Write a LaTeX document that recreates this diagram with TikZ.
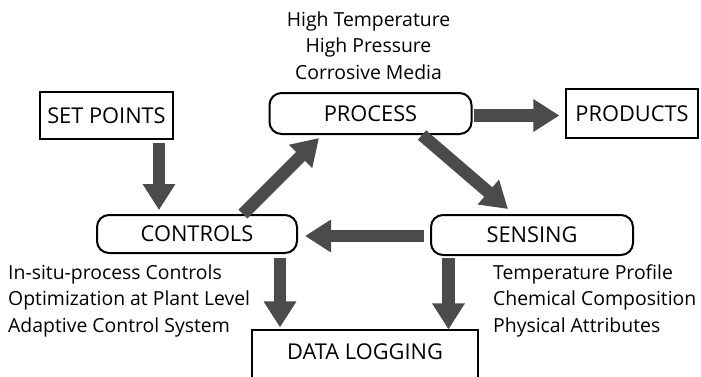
\documentclass[tikz,border=0pt]{standalone}
\usepackage{fontspec}
\setmainfont{Open Sans}
\usetikzlibrary{arrows.meta}
\definecolor{arrowgray}{HTML}{4B4B4B}
\tikzset{
  plainbox/.style={draw=black, line width=1.2pt, inner sep=0pt, font=\fontsize{21.8}{26}\selectfont},
  roundbox/.style={draw=black, line width=2pt, rounded corners=12pt, inner sep=0pt, font=\fontsize{21.8}{26}\selectfont},
  bigarrow/.style={draw=arrowgray, line width=12.5pt, -{Triangle[width=31pt,length=26pt]}},
  notetext/.style={inner sep=0pt, font=\fontsize{19.4}{26.5}\selectfont},
}
\begin{document}
\begin{tikzpicture}[x=1pt,y=-1pt]
\clip (0,0) rectangle (701,376);
\fill[white] (0,0) rectangle (701,376);
% boxes
\node[plainbox, minimum width=133pt, minimum height=47pt] (sp) at (106.5,115.5) {SET POINTS};
\node[roundbox, minimum width=202pt, minimum height=41pt] (proc) at (370.5,113.5) {PROCESS};
\node[plainbox, minimum width=132pt, minimum height=49pt] (prod) at (632,113.5) {PRODUCTS};
\node[roundbox, minimum width=200pt, minimum height=38pt] (ctl) at (197,234) {CONTROLS};
\node[roundbox, minimum width=202pt, minimum height=40pt] (sens) at (532,235) {SENSING};
\node[plainbox, anchor=base, text height=29.5pt, text depth=40pt, inner ysep=0pt, minimum width=226pt] (dl) at (365,359.5) {DATA LOGGING};
% notes
\node[notetext, anchor=base, align=center] (pnote) at (368.5,79) {High Temperature\\High Pressure\\Corrosive Media};
\node[notetext, anchor=base west, align=left] (cnote) at (8,332) {In-situ-process Controls\\Optimization at Plant Level\\Adaptive Control System};
\node[notetext, anchor=base west, align=left] (snote) at (493,332) {Temperature Profile\\Chemical Composition\\Physical Attributes};
% arrows
\draw[bigarrow] ([xshift=52.5pt,yshift=-3pt]sp.south) -- ([xshift=-38pt,yshift=4pt]ctl.north);
\draw[bigarrow] ([xshift=46pt]ctl.north) -- ([xshift=-51.5pt,yshift=-3pt]proc.south);
\draw[bigarrow] ([xshift=51.5pt]proc.south) -- ([xshift=-24pt,yshift=5pt]sens.north);
\draw[bigarrow] ([xshift=-6pt,yshift=-1pt]sens.west) -- ([xshift=7pt,yshift=-2pt]ctl.east);
\draw[bigarrow] ([xshift=1pt,yshift=-2pt]proc.east) -- ([xshift=-6pt,yshift=-2pt]prod.west);
\draw[bigarrow] ([xshift=83pt,yshift=-4pt]ctl.south) -- ([xshift=-85pt,yshift=2pt]dl.north);
\draw[bigarrow] ([xshift=-83.5pt,yshift=-2pt]sens.south) -- ([xshift=83.5pt]dl.north);
\end{tikzpicture}
\end{document}
